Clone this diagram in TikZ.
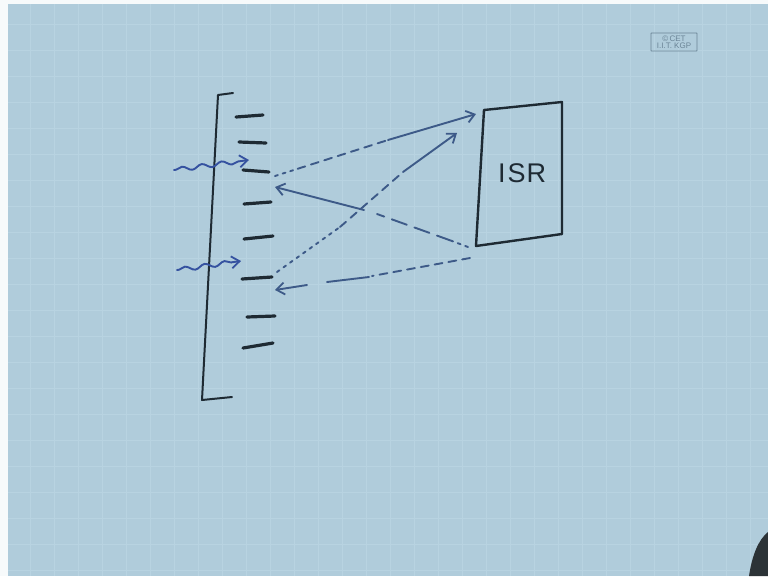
\documentclass[tikz,border=0pt]{standalone}
\usepackage{fontspec}
\setsansfont{Liberation Sans}
\usetikzlibrary{arrows.meta,decorations.pathmorphing,calc}
\definecolor{board}{HTML}{B0CCDB}
\definecolor{gridline}{HTML}{B8D3E1}
\definecolor{ink}{HTML}{1E2A33}
\definecolor{penblue}{HTML}{3D5A88}
\definecolor{wavyblue}{HTML}{3552A0}
\definecolor{stamp}{HTML}{6A8496}
\begin{document}
\begin{tikzpicture}[x=1pt,y=-1pt,
  tick/.style={ink,line width=3.2pt,line cap=round},
  frame/.style={ink,line width=2pt,line join=round,line cap=round},
  flow/.style={penblue,line width=1.9pt,line cap=round},
  tip/.style={-{Straight Barb[length=8pt,width=12pt,line width=1.8pt]}},
  dashpart/.style={flow,dash pattern=on 8pt off 6pt},
  dotpart/.style={flow,dash pattern=on 3pt off 5pt},
  longdash/.style={flow,dash pattern=on 16pt off 8pt},
  wavy/.style={wavyblue,line width=1.9pt,line cap=round,decorate,
    decoration={snake,amplitude=2.2pt,segment length=20pt,pre length=2pt,post length=10pt}},
]
\useasboundingbox (0,0) rectangle (768,576);

% board surface with faint grid
\fill[white!90!board] (0,0) rectangle (768,576);
\fill[board] (8,4) rectangle (768,576);
\foreach \gx in {30,54,...,766} \draw[gridline,line width=0.5pt] (\gx,4) -- (\gx,576);
\foreach \gy in {24,50,...,576} \draw[gridline,line width=0.5pt] (8,\gy) -- (768,\gy);
\fill[black!75!board] (768,532) .. controls (758,540) and (752,556) .. (749,576) -- (768,576) -- cycle;

% stamp in the corner
\draw[stamp,line width=0.8pt,rounded corners=0.5pt] (651,33) rectangle (697,51);
\node[stamp,font=\sffamily\fontsize{8}{7.5}\selectfont,align=center,inner sep=0pt]
  (stampText) at (674,42) {\textcopyright\,CET\\I.I.T. KGP};

% bracket (vector table)
\coordinate (bt) at (233,93);
\coordinate (btl) at (218,95);
\coordinate (bbl) at (202,400);
\coordinate (bb) at (232,397);
\draw[frame] (bt) -- (btl) -- (bbl) -- (bb);

% entries
\coordinate (t1s) at (236,117); \coordinate (t1e) at (263,115);
\coordinate (t2s) at (239,142); \coordinate (t2e) at (266,143);
\coordinate (t3s) at (243,170); \coordinate (t3e) at (269,172);
\coordinate (t4s) at (244,204); \coordinate (t4e) at (271,202);
\coordinate (t5s) at (244,239); \coordinate (t5e) at (273,236);
\coordinate (t6s) at (242,279); \coordinate (t6e) at (272,277);
\coordinate (t7s) at (247,317); \coordinate (t7e) at (275,316);
\coordinate (t8s) at (243,348); \coordinate (t8e) at (273,343);
\foreach \i in {1,...,8} \draw[tick] (t\i s) -- (t\i e);

% incoming wavy arrows
\coordinate (w1s) at (174,170);
\coordinate (w1e) at (249,160);
\coordinate (w2s) at (177,270);
\coordinate (w2e) at (241,261);
\draw[wavy,tip] (w1s) -- (w1e);
\draw[wavy,tip] (w2s) -- (w2e);

% ISR box
\coordinate (itl) at (484,110);
\coordinate (itr) at (562,102);
\coordinate (ibr) at (562,234);
\coordinate (ibl) at (476,246);
\draw[frame,line width=2.4pt] (itl) -- (itr) -- (ibr) -- (ibl) -- cycle;
\node[ink,font=\sffamily\fontsize{27}{30}\selectfont,inner sep=0pt]
  (isr) at (522,173) {I\kern2ptS\kern1ptR};

% transfer from first entry to ISR
\coordinate (a0) at (275,176);
\coordinate (a1) at (388,140);
\coordinate (a2) at (476,114);
\draw[dotpart] (a0) -- ($(a0)!0.2!(a1)$);
\draw[dashpart] ($(a0)!0.2!(a1)$) -- (a1);
\draw[flow,tip] (a1) -- (a2);

% return from ISR to the next entry
\coordinate (b0) at (468,247);
\coordinate (b1) at (377,214);
\coordinate (b2) at (364,210);
\coordinate (b3) at (275,187);
\draw[dotpart] (b0) -- (452,241);
\draw[longdash] (452,241) -- (b1);
\draw[flow,tip] (b2) -- (b3);

% transfer from second entry to ISR
\coordinate (c0) at (277,272);
\coordinate (c1) at (340,227);
\coordinate (c2) at (403,172);
\coordinate (c3) at (457,133);
\draw[dotpart] (c0) -- (c1);
\draw[dashpart] (c1) -- (c2);
\draw[flow,tip] (c2) -- (c3);

% return from ISR to the entry after it
\coordinate (d0) at (470,258);
\coordinate (d1) at (372,276);
\coordinate (d2) at (369,277);
\coordinate (d3) at (307,285);
\coordinate (d4) at (275,290);
\draw[dashpart] (d0) -- (d1);
\draw[flow] (d2) -- (327,282);
\draw[flow,tip] (d3) -- (d4);
\end{tikzpicture}
\end{document}
